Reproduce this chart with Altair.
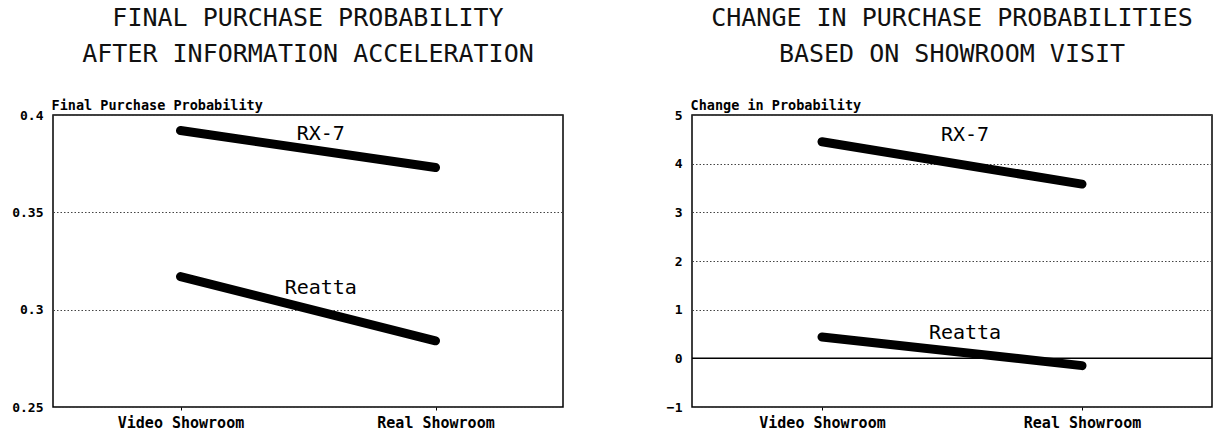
import json
import altair as alt
import pandas as pd

# ---- data ----
stages = ["Video Showroom", "Real Showroom"]
stage_pos = [0, 1]
cars = ["RX-7", "Reatta"]

final_rx7 = [0.392, 0.373]
final_reatta = [0.317, 0.284]
change_rx7 = [4.45, 3.58]
change_reatta = [0.44, -0.15]

final_label_x = [0.55, 0.55]
final_label_y = [0.390, 0.311]
change_label_x = [0.55, 0.55]
change_label_y = [4.58, 0.52]

final_ticks = [0.25, 0.3, 0.35, 0.4]
change_ticks = [-1, 0, 1, 2, 3, 4, 5]
zero_line = [0]

MONO = "DejaVu Sans Mono"


def build_df(series, label_x, label_y, extra_zero=False):
    rows = []
    for car, vals in zip(cars, series):
        for p, v in zip(stage_pos, vals):
            rows.append({"kind": "line", "car": car, "pos": p, "value": v})
    for car, lx, ly in zip(cars, label_x, label_y):
        rows.append({"kind": "label", "car": car, "pos": lx, "value": ly})
    if extra_zero:
        for z in zero_line:
            rows.append({"kind": "zero", "car": "", "pos": 0, "value": z})
    return pd.DataFrame(rows)


label_expr = f"{json.dumps(stages)}[datum.value]"


def panel(df, y_title, ticks, fmt, title_lines, width, with_zero=False):
    xenc = alt.X(
        "pos:Q",
        scale=alt.Scale(domain=[-0.5, 1.5], nice=False, zero=False),
        axis=alt.Axis(
            values=stage_pos, labelExpr=label_expr, title=None, grid=False,
            domain=False, tickSize=3, tickColor="black", labelPadding=5,
            labelFont=MONO, labelFontSize=15, labelFontWeight="bold",
            labelColor="black",
        ),
    )
    yenc = alt.Y(
        "value:Q",
        scale=alt.Scale(domain=[min(ticks), max(ticks)], nice=False, zero=False),
        axis=alt.Axis(
            values=ticks, format=fmt, title=y_title, titleAngle=0,
            titleAlign="left", titleBaseline="alphabetic", titleX=-2, titleY=-6,
            titleFont=MONO, titleFontSize=13.5, titleFontWeight="bold",
            titleColor="black", domain=False, ticks=False, labelPadding=10,
            labelFont=MONO, labelFontSize=13, labelFontWeight="bold",
            labelColor="black", grid=True, gridColor="#444",
            gridDash=[1.5, 2], gridWidth=1,
        ),
    )
    base = alt.Chart(df)
    lines = base.mark_line(color="black", strokeWidth=9, strokeCap="round").encode(
        x=xenc, y=yenc, detail="car:N"
    ).transform_filter(alt.datum.kind == "line")
    labels = base.mark_text(
        font=MONO, fontSize=20, color="black", baseline="middle", align="center"
    ).encode(x=xenc, y=yenc, text="car:N").transform_filter(alt.datum.kind == "label")
    layers = [lines, labels]
    if with_zero:
        rule = base.mark_rule(color="black", strokeWidth=1.5).encode(
            y=yenc
        ).transform_filter(alt.datum.kind == "zero")
        layers = [rule] + layers
    return alt.layer(*layers).properties(
        width=width, height=292,
        title=alt.TitleParams(
            text=title_lines, font=MONO, fontSize=25, fontWeight="normal",
            lineHeight=36, anchor="middle", offset=31, color="#111",
        ),
    )


left = panel(
    build_df([final_rx7, final_reatta], final_label_x, final_label_y),
    "Final Purchase Probability", final_ticks, "~g",
    ["FINAL PURCHASE PROBABILITY", "AFTER INFORMATION ACCELERATION"], 510,
)
right = panel(
    build_df([change_rx7, change_reatta], change_label_x, change_label_y,
             extra_zero=True),
    "Change in Probability", change_ticks, "d",
    ["CHANGE IN PURCHASE PROBABILITIES", "BASED ON SHOWROOM VISIT"], 520,
    with_zero=True,
)

chart = alt.hconcat(left, right, spacing=129, bounds="flush").properties(
    padding={"left": 10, "top": 5, "right": 0, "bottom": 0},
    background="white",
).configure_view(stroke="black", strokeWidth=1.5)

chart.save("out.html", embed_options={"renderer": "svg", "actions": False})
